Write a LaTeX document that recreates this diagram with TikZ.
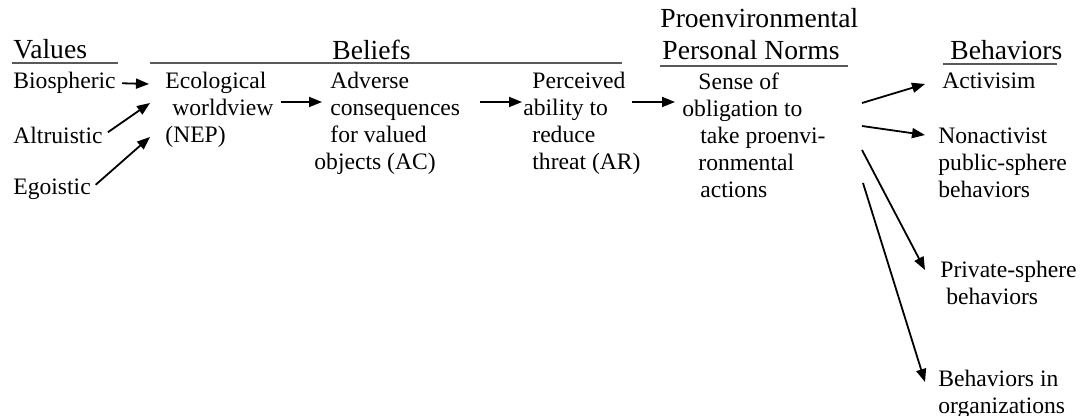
\documentclass[tikz,border=0pt]{standalone}
\usepackage{fontspec}
\setmainfont{Liberation Serif}
\usetikzlibrary{arrows.meta}
\tikzset{
	txt/.style={anchor=north west, inner sep=0pt, align=left, font=\fontsize{11.8}{13.5}\selectfont},
	head/.style={anchor=base west, inner sep=0pt, font=\fontsize{13.8}{15}\selectfont},
	uline/.style={draw=black!65, line width=1pt},
	arr/.style={->, line width=0.9pt}
}
\begin{document}
\begin{tikzpicture}[x=0.5pt, y=-0.5pt, >={Triangle[length=6.5pt,width=5pt]}]
	\useasboundingbox (0,0) rectangle (1082,416);
	% headings
	\node[head] (hval) at (13,59) {Values};
	\node[head] (hbel) at (332,60) {Beliefs};
	\node[head] (hpro) at (660,28) {Proenvironmental};
	\node[head] (hnor) at (662,60) {Personal Norms};
	\node[head] (hbeh) at (950,60) {Behaviors};
	\draw[uline] (12,63)--(118,63) (150,63)--(622,63) (660,66)--(848,66) (943,64)--(1057,64);
	% values
	\node[txt] (bio) at (13,72) {Biospheric};
	\node[txt] (alt) at (13,127) {Altruistic};
	\node[txt] (ego) at (13,178) {Egoistic};
	% beliefs and norms
	\node[txt] (eco) at (165,72) {Ecological\\\hspace*{3.5pt}worldview\\(NEP)};
	\node[txt] (ac) at (314,72) {\hspace*{8pt}Adverse\\\hspace*{8pt}consequences\\\hspace*{8pt}for valued\\objects (AC)};
	\node[txt] (ar) at (523,72) {\hspace*{4.5pt}Perceived\\ability to\\\hspace*{4.5pt}reduce\\\hspace*{4.5pt}threat (AR)};
	\node[txt] (pn) at (682,72) {\hspace*{8pt}Sense of\\obligation to\\\hspace*{9pt}take proenvi-\\\hspace*{8pt}ronmental\\\hspace*{9pt}actions};
	% behaviors
	\node[txt] (act) at (942,72) {Activisim};
	\node[txt] (pub) at (938,127) {Nonactivist\\public-sphere\\behaviors};
	\node[txt] (priv) at (940,261) {Private-sphere\\\hspace*{3pt}behaviors};
	\node[txt] (org) at (938,370) {Behaviors in\\organizations};
	% arrow ends
	\path (149,84) coordinate (eco-in1) (150,103) coordinate (eco-in2) (150,137) coordinate (eco-in3)
		(281,102) coordinate (eco-out) (322,102) coordinate (ac-in)
		(480,102) coordinate (ac-out) (522,102) coordinate (ar-in)
		(632,102) coordinate (ar-out) (675,102) coordinate (pn-in)
		(862,103) coordinate (pn-out1) (862,126) coordinate (pn-out2)
		(862,150) coordinate (pn-out3) (863,183) coordinate (pn-out4)
		(925,84) coordinate (act-in) (925,135) coordinate (pub-in)
		(925,270) coordinate (priv-in) (925,382) coordinate (org-in);
	\foreach \s/\t in {bio/eco-in1, alt/eco-in2, ego/eco-in3}{
		\draw[arr, shorten <=3pt] (\s.east)--(\t);
	}
	\foreach \s/\t in {eco-out/ac-in, ac-out/ar-in, ar-out/pn-in, pn-out1/act-in, pn-out2/pub-in, pn-out3/priv-in, pn-out4/org-in}{
		\draw[arr] (\s)--(\t);
	}
\end{tikzpicture}
\end{document}
